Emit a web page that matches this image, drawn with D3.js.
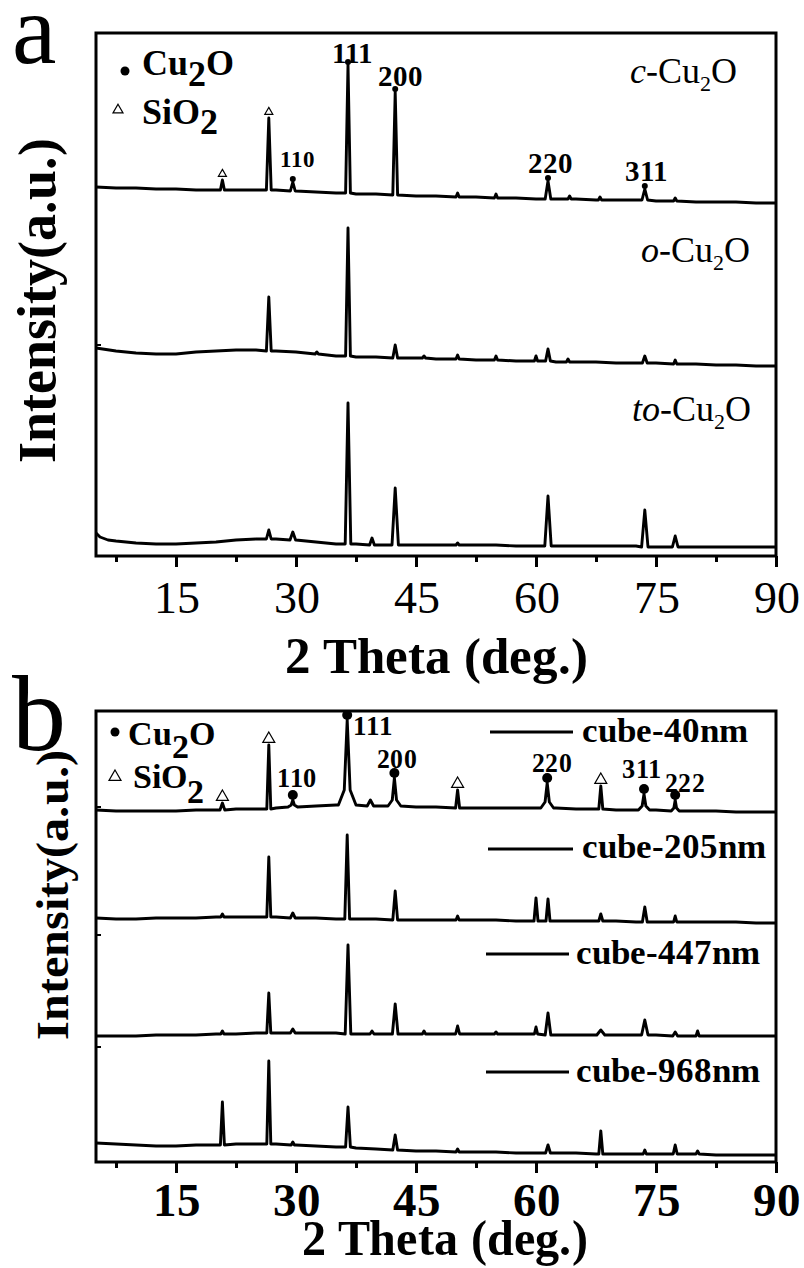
<!DOCTYPE html>
<html>
<head>
<meta charset="utf-8">
<script src="https://cdnjs.cloudflare.com/ajax/libs/d3/7.8.5/d3.min.js"></script>
<style>
  @font-face { font-family: "XSerif"; font-weight: 400; font-style: normal;
    src: local("Liberation Serif"), local("LiberationSerif"), local("Liberation Serif Regular"), local("Times New Roman"); }
  @font-face { font-family: "XSerif"; font-weight: 700; font-style: normal;
    src: local("Liberation Serif Bold"), local("LiberationSerif-Bold"), local("Times New Roman Bold"); }
  @font-face { font-family: "XSerif"; font-weight: 400; font-style: italic;
    src: local("Liberation Serif Italic"), local("LiberationSerif-Italic"), local("Times New Roman Italic"); }
  body { margin: 0; background: #fff; }
</style>
</head>
<body>
<svg id="chart" width="804" height="1268" font-family="XSerif, 'Liberation Serif', 'Times New Roman', serif"></svg>
<script>
// ---- data (2 theta in deg, intensity in a.u.) ----
const xTicks = [15, 30, 45, 60, 75, 90];
const xMinorTicks = [7.5, 22.5, 37.5, 52.5, 67.5, 82.5];

// panel a : stacked offsets for c / o / to
const namesA = ["c", "o", "to"];
const offsetsA = [340, 180, 0];

const baseC = [[5,29],[7.5,28],[10,28],[12.5,27],[15,27],[17.5,26],[20,26],[22.5,26],[25,26],[27.5,26],[30,25],[32.5,24],[35,23],[37.5,22],[40,22],[42.5,21],[45,20],[47.5,20],[50,19],[52.5,19],[55,18],[57.5,18],[60,17],[62.5,17],[65,17],[67.5,16],[70,16],[72.5,16],[75,15],[77.5,15],[80,14],[82.5,14],[85,14],[87.5,13],[90,13]];
// [2theta, top, foot, half width, shoulder]
const peaksC = [[20.8,36,26,0.25],[26.6,98,26,0.3],[29.6,34,25,0.3],[36.5,151,23,0.3],[42.4,124,21,0.3],[50.2,23,19,0.2],[55.0,22,18,0.2],[61.5,35,17,0.35],[64.2,20,17,0.2],[68.0,19,16,0.2],[73.6,27,16,0.35],[77.4,18,15,0.2]];

const baseO = [[5,28],[7.5,25],[10,23],[12.5,22],[15,22],[17.5,24],[20,25],[22.5,26],[25,26],[27.5,25],[30,24],[32.5,22],[35,20],[37.5,19],[40,19],[42.5,18],[45,18],[47.5,17],[50,17],[52.5,16],[55,16],[57.5,15],[60,15],[62.5,14],[65,14],[67.5,14],[70,13],[72.5,13],[75,13],[77.5,12],[80,12],[82.5,11],[85,11],[87.5,10],[90,10]];
const peaksO = [[26.6,79,25,0.3],[32.6,24,22,0.2],[36.5,148,20,0.3],[42.4,31,18,0.3],[46.0,20,18,0.2],[50.2,21,17,0.2],[55.0,20,16,0.2],[60.0,20,15,0.2],[61.5,27,15,0.3],[64.0,17,14,0.2],[73.6,20,13,0.3],[77.4,16,12,0.2]];

const baseTo = [[5,23],[5.5,19],[6.5,16],[7.5,15],[10,13],[12.5,12],[15,12],[17.5,13],[20,14],[22.5,16],[25,17],[27.5,17],[30,16],[32.5,14],[35,12],[37.5,12],[40,11],[42.5,11],[45,11],[47.5,11],[50,11],[52.5,11],[55,11],[57.5,10],[60,10],[62.5,10],[65,10],[67.5,10],[70,10],[72.5,10],[75,9],[77.5,9],[80,9],[82.5,9],[85,9],[87.5,9],[90,9]];
const peaksTo = [[26.6,26,17,0.3],[29.6,24,16,0.35],[36.5,153,12,0.35],[39.5,18,11,0.3],[42.4,68,11,0.4],[50.2,13,11,0.2],[61.5,60,10,0.4],[73.6,46,9,0.4],[77.4,20,9,0.35]];

// panel b : stacked offsets for cube sizes
const namesB = ["cube-40nm", "cube-205nm", "cube-447nm", "cube-968nm"];
const offsetsB = [340, 230, 112, 0];

const base40 = [[5,12],[7.5,11],[10,11],[12.5,11],[15,11],[17.5,12],[20,12],[22.5,13],[25,13],[27.5,14],[30,15],[32.5,16],[35,17],[37.5,17],[40,16],[42.5,16],[45,15],[47.5,15],[50,14],[52.5,14],[55,14],[57.5,14],[60,14],[62.5,14],[65,13],[67.5,13],[70,12],[72.5,12],[75,12],[77.5,11],[80,11],[82.5,11],[85,10],[87.5,10],[90,10]];
const peaks40 = [[20.8,19,12,0.3],[26.6,77,13,0.25],[29.6,22,15,0.6,17],[36.4,102,17,1.1,32],[39.3,22,16,0.4],[42.3,44,16,0.8,22],[50.2,32,14,0.25],[61.4,39,14,0.8,20],[68.1,36,13,0.25],[73.5,28,12,0.7,16],[77.4,22,11,0.5,14]];

const base205 = [[5,14],[7.5,13],[10,13],[12.5,14],[15,14],[17.5,14],[20,15],[22.5,15],[25,15],[27.5,15],[30,14],[32.5,14],[35,13],[37.5,13],[40,13],[42.5,12],[45,12],[47.5,12],[50,12],[52.5,12],[55,12],[57.5,11],[60,11],[62.5,11],[65,11],[67.5,11],[70,11],[72.5,10],[75,10],[77.5,10],[80,10],[82.5,10],[85,10],[87.5,9],[90,9]];
const peaks205 = [[20.8,18,15,0.2],[26.6,75,15,0.25],[29.6,19,14,0.3],[36.4,97,13,0.3],[42.4,41,12,0.3],[50.2,16,12,0.2],[60.0,34,11,0.25],[61.5,33,11,0.25],[68.1,18,11,0.25],[73.6,25,10,0.3],[77.4,16,10,0.2]];

const base447 = [[5,14],[7.5,14],[10,14],[12.5,15],[15,15],[17.5,15],[20,16],[22.5,16],[25,17],[27.5,17],[30,17],[32.5,17],[35,17],[37.5,16],[40,16],[42.5,16],[45,16],[47.5,16],[50,16],[52.5,16],[55,16],[57.5,16],[60,16],[62.5,15],[65,15],[67.5,15],[70,15],[72.5,15],[75,15],[77.5,14],[80,14],[82.5,14],[85,14],[87.5,14],[90,14]];
const peaks447 = [[20.8,19,16,0.2],[26.6,57,17,0.25],[29.6,21,17,0.3],[36.5,105,16,0.35],[39.5,19,16,0.25],[42.4,46,16,0.35],[46.0,19,16,0.2],[50.2,24,16,0.25],[55.0,18,16,0.2],[60.0,23,16,0.2],[61.5,37,15,0.35],[68.1,20,15,0.5],[73.6,30,15,0.4],[77.4,18,14,0.3],[80.2,19,14,0.2]];

const base968 = [[5,19],[7.5,18],[10,17],[12.5,16],[15,16],[17.5,17],[20,17],[22.5,18],[25,18],[27.5,18],[30,17],[32.5,16],[35,15],[37.5,14],[40,13],[42.5,12],[45,11],[47.5,11],[50,10],[52.5,10],[55,10],[57.5,9],[60,9],[62.5,9],[65,9],[67.5,8],[70,8],[72.5,8],[75,8],[77.5,8],[80,8],[82.5,7],[85,7],[87.5,7],[90,7]];
const peaks968 = [[20.8,60,17,0.25],[26.6,101,18,0.25],[29.6,20,17,0.2],[36.5,55,15,0.3],[42.4,27,12,0.3],[50.2,13,10,0.2],[61.5,17,9,0.3],[68.1,31,8,0.25],[73.6,12,8,0.2],[77.4,17,8,0.25],[80.2,11,8,0.2]];

// phase markers (2 theta of marked peaks on the top pattern)
const siO2A = [20.8, 26.6];
const cu2oA = [29.6, 36.5, 42.4, 61.5, 73.6];
const siO2B = [20.8, 26.6, 50.2, 68.1];
const cu2oB = [29.6, 36.4, 42.3, 61.4, 73.5, 77.4];
const hklA = ["111", "200", "110", "220", "311"];
const hklB = ["111", "110", "200", "220", "311", "222"];

// ---- layout ----
const left = 96, right = 776;
const aTop = 33, aBottom = 556, bTop = 711, bBottom = 1162;
const x = d3.scaleLinear().domain([5, 90]).range([left, right]);
const yA = d3.scaleLinear().domain([0, 523]).range([aBottom, aTop]);
const yB = d3.scaleLinear().domain([0, 451]).range([bBottom, bTop]);

const svg = d3.select("#chart");

function buildPoints(base, peaks) {
  const inside = t => peaks.some(p => t > p[0] - p[3] && t < p[0] + p[3]);
  const pts = base.filter(d => !inside(d[0])).map(d => [d[0], d[1]]);
  peaks.forEach(p => {
    const [t, top, foot, w, mid] = p;
    pts.push([t - w, foot], [t, top], [t + w, foot]);
    if (mid !== undefined) pts.push([t - w / 3, mid], [t + w / 3, mid]);
  });
  return pts.sort((a, b) => a[0] - b[0]);
}

function drawPanel(y, top, bottom, series, bold, labelY, notches) {
  const g = svg.append("g");
  series.forEach(s => {
    const line = d3.line().x(d => x(d[0])).y(d => y(s.offset + d[1]));
    g.append("path")
      .datum(buildPoints(s.base, s.peaks))
      .attr("d", line)
      .attr("fill", "none")
      .attr("stroke", "#000")
      .attr("stroke-width", 2.9)
      .attr("stroke-linejoin", "round");
  });

  g.append("rect")
    .attr("x", left).attr("y", top)
    .attr("width", right - left).attr("height", bottom - top)
    .attr("fill", "none").attr("stroke", "#000").attr("stroke-width", 3);

  notches.forEach(n => {
    g.append("line").attr("x1", left).attr("x2", left + 5).attr("y1", n).attr("y2", n)
      .attr("stroke", "#000").attr("stroke-width", 2);
  });

  const minor = g.append("g")
    .attr("transform", `translate(0,${bottom})`)
    .call(d3.axisBottom(x).tickValues(xMinorTicks).tickSize(6).tickFormat(""));
  minor.select(".domain").remove();
  minor.selectAll(".tick line").attr("stroke", "#000").attr("stroke-width", 3);

  const major = g.append("g")
    .attr("transform", `translate(0,${bottom})`)
    .call(d3.axisBottom(x).tickValues(xTicks).tickSize(11).tickFormat(d3.format("d")));
  major.attr("font-family", null).attr("font-size", null);
  major.select(".domain").remove();
  major.selectAll(".tick line").attr("stroke", "#000").attr("stroke-width", 3);
  major.selectAll(".tick text")
    .attr("y", labelY).attr("dy", 0)
    .attr("font-size", bold ? 47 : 46)
    .attr("font-weight", bold ? "bold" : "normal");
  return g;
}

function peakTop(peaks, t) {
  return peaks.find(p => Math.abs(p[0] - t) < 0.01)[1];
}

function triangle(cx, cy, s) {
  svg.append("path")
    .attr("d", d3.symbol(d3.symbolTriangle, s * s * 0.433)())
    .attr("transform", `translate(${cx},${cy})`)
    .attr("fill", "#fff").attr("stroke", "#000").attr("stroke-width", 1.2);
}

function dot(cx, cy, r) {
  svg.append("circle").attr("cx", cx).attr("cy", cy).attr("r", r).attr("fill", "#000");
}

function formula(x0, y0, size, head, sub, tail, shift) {
  const t = svg.append("text").attr("x", x0).attr("y", y0)
    .attr("font-size", size).attr("font-weight", "bold");
  t.append("tspan").text(head);
  t.append("tspan").attr("dy", shift).text(sub);
  if (tail) t.append("tspan").attr("dy", -shift).text(tail);
}

// ---- panel a ----
const seriesA = [
  {offset: offsetsA[0], base: baseC, peaks: peaksC},
  {offset: offsetsA[1], base: baseO, peaks: peaksO},
  {offset: offsetsA[2], base: baseTo, peaks: peaksTo}
];
drawPanel(yA, aTop, aBottom, seriesA, false, 57, [345]);

siO2A.forEach(t => triangle(x(t), yA(offsetsA[0] + peakTop(peaksC, t)) - 6, 8));
cu2oA.forEach(t => dot(x(t), yA(offsetsA[0] + peakTop(peaksC, t)) - 3, 3));

const hklPosA = [[352, 63, 29], [400, 86, 29], [297, 167, 23], [550, 173, 29], [646, 181, 29]];
hklA.forEach((h, i) => {
  svg.append("text").attr("x", hklPosA[i][0]).attr("y", hklPosA[i][1])
    .attr("text-anchor", "middle").attr("font-size", hklPosA[i][2])
    .attr("font-weight", "bold").text(h);
});

dot(125, 71, 4.5);
formula(142, 75, 36, "Cu", "2", "O", 11);
triangle(118, 110, 10);
formula(142, 124, 36, "SiO", "2", null, 10);

const sampleLabelPos = [[630, 83], [641, 262], [632, 421]];
namesA.forEach((n, i) => {
  const t = svg.append("text").attr("x", sampleLabelPos[i][0]).attr("y", sampleLabelPos[i][1])
    .attr("font-size", 36);
  t.append("tspan").attr("font-style", "italic").text(n);
  t.append("tspan").text("-Cu");
  t.append("tspan").attr("font-size", 22).attr("dy", 8).text("2");
  t.append("tspan").attr("dy", -8).text("O");
});

svg.append("text").attr("x", 12).attr("y", 63).attr("font-size", 100).text("a");
svg.append("text").attr("x", 436).attr("y", 673).attr("text-anchor", "middle")
  .attr("font-size", 51).attr("font-weight", "bold").text("2 Theta (deg.)");
svg.append("text").attr("transform", "translate(55,300) rotate(-90)")
  .attr("text-anchor", "middle").attr("font-size", 54).attr("font-weight", "bold")
  .text("Intensity(a.u.)");

// ---- panel b ----
const seriesB = [
  {offset: offsetsB[0], base: base40, peaks: peaks40},
  {offset: offsetsB[1], base: base205, peaks: peaks205},
  {offset: offsetsB[2], base: base447, peaks: peaks447},
  {offset: offsetsB[3], base: base968, peaks: peaks968}
];
drawPanel(yB, bTop, bBottom, seriesB, true, 54, [807, 935, 1047]);

siO2B.forEach(t => triangle(x(t), yB(offsetsB[0] + peakTop(peaks40, t)) - 6, 12));
cu2oB.forEach(t => dot(x(t), yB(offsetsB[0] + peakTop(peaks40, t)) - 5, 5));

const hklPosB = [[353, 735], [277, 787], [377, 768], [532, 772], [622, 778], [665, 792]];
hklB.forEach((h, i) => {
  svg.append("text").attr("x", hklPosB[i][0]).attr("y", hklPosB[i][1])
    .attr("font-size", 27).attr("font-weight", "bold")
    .attr("textLength", 40).attr("lengthAdjust", "spacingAndGlyphs").text(h);
});

dot(115, 732, 4.5);
formula(128, 745, 34, "Cu", "2", "O", 13);
triangle(115, 777, 12);
formula(133, 788, 34, "SiO", "2", null, 15);

const keyPos = [[490, 573, 732, 582, 742], [488, 573, 849, 582, 858], [486, 569, 954, 576, 964], [486, 569, 1072, 576, 1082]];
namesB.forEach((n, i) => {
  const k = keyPos[i];
  svg.append("line").attr("x1", k[0]).attr("x2", k[1]).attr("y1", k[2]).attr("y2", k[2])
    .attr("stroke", "#000").attr("stroke-width", 3);
  svg.append("text").attr("x", k[3]).attr("y", k[4])
    .attr("font-size", 35).attr("font-weight", "bold").text(n);
});

svg.append("text").attr("x", 12).attr("y", 750).attr("font-size", 108).text("b");
svg.append("text").attr("x", 445).attr("y", 1255).attr("text-anchor", "middle")
  .attr("font-size", 50).attr("font-weight", "bold")
  .attr("textLength", 286).attr("lengthAdjust", "spacingAndGlyphs").text("2 Theta (deg.)");
svg.append("text").attr("transform", "translate(68,895) rotate(-90)")
  .attr("text-anchor", "middle").attr("font-size", 46).attr("font-weight", "bold")
  .attr("textLength", 290).attr("lengthAdjust", "spacingAndGlyphs")
  .text("Intensity(a.u.)");
</script>
</body>
</html>
